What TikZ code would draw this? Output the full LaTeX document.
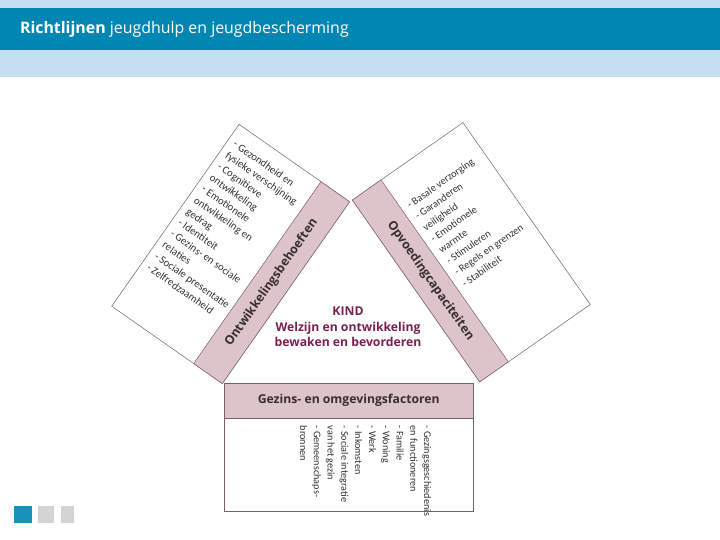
\documentclass[tikz,border=0pt]{standalone}
\usepackage{fontspec}
\setmainfont{Open Sans}
\newfontfamily\listfont{Carlito}
\usetikzlibrary{positioning}

\definecolor{headteal}{RGB}{0,134,178}
\definecolor{headlight}{RGB}{197,222,240}
\definecolor{bandpink}{RGB}{220,196,201}
\definecolor{edgegray}{RGB}{125,95,105}
\definecolor{kindred}{RGB}{122,32,78}
\definecolor{labeldark}{RGB}{55,45,50}
\definecolor{dotgray}{RGB}{212,212,212}

\begin{document}
\begin{tikzpicture}[x=1pt,y=-1pt,
    panel/.style={draw=edgegray,line width=0.5pt,fill=white,inner sep=0pt,minimum width=135pt,minimum height=222pt},
    band/.style={draw=edgegray,line width=0.5pt,fill=bandpink,inner sep=0pt,minimum width=35pt,minimum height=222pt},
    bandlabel/.style={font=\bfseries\fontsize{12.3}{14}\selectfont,text=labeldark},
    itemlist/.style={font=\listfont\fontsize{10.4}{13.7}\selectfont,text=black!80,align=left,inner xsep=7pt}]
    \useasboundingbox[fill=white] (0,0) rectangle (720,540);
    \fill[headlight] (0,0) rectangle (720,77);
    \fill[headteal] (0,8) rectangle (720,50);
    \node[anchor=west,text=white,font=\fontsize{15.9}{18}\selectfont] (title) at (16.5,29)
        {\textbf{Richtlijnen} jeugdhulp en jeugdbescherming};

    \node[panel,rotate=-35,anchor=north west] (needs) at (239,124) {};
    \node[band,rotate=-35,anchor=north east] (needs_band) at (needs.north east) {};
    \node[bandlabel,rotate=55] (needs_lbl) at (needs_band.center) {Ontwikkelingsbehoeften};
    \node[itemlist,rotate=-35,anchor=north west,inner ysep=14pt,font=\listfont\fontsize{10.8}{13.7}\selectfont] (needs_list) at (needs.north west)
        {- Gezondheid en\\fysieke verschijning\\- Cognitieve\\ontwikkeling\\- Emotionele\\ontwikkeling en\\gedrag\\- Identiteit\\- Gezins- en sociale\\relaties\\- Sociale presentatie\\- Zelfredzaamheid};

    \node[panel,rotate=35,anchor=north west] (care) at (352,200) {};
    \node[band,rotate=35,anchor=north west] (care_band) at (care.north west) {};
    \node[bandlabel,rotate=-55] (care_lbl) at (care_band.center) {Opvoedingcapaciteiten};
    \node[itemlist,rotate=35,anchor=north west,inner ysep=33pt] (care_list) at (care_band.north east)
        {- Basale verzorging\\- Garanderen\\veiligheid\\- Emotionele\\warmte\\- Stimuleren\\- Regels en grenzen\\- Stabiliteit};

    \node[align=center,text=kindred,font=\bfseries\fontsize{12.2}{15.5}\selectfont] (kind) at (348,327)
        {KIND\\Welzijn en ontwikkeling\\bewaken en bevorderen};

    \node[panel,anchor=north west,minimum width=249pt,minimum height=128pt] (env) at (224,383) {};
    \node[band,anchor=north west,minimum width=249pt,minimum height=35pt,font=\bfseries\fontsize{12.2}{14}\selectfont,text=labeldark]
        (env_band) at (env.north west) {Gezins- en omgevingsfactoren};
    \node[itemlist,rotate=-90,anchor=north west,inner ysep=42pt,font=\listfont\fontsize{10.2}{13.8}\selectfont] (env_list) at (env_band.south east)
        {- Gezingsgeschiedenis\\en functioneren\\- Familie\\- Woning\\- Werk\\- Inkomsten\\- Sociale integratie\\van het gezin\\- Gemeenschaps-\\bronnen};

    \fill[headteal!90] (14,506) rectangle (32,523);
    \fill[dotgray] (38,506) rectangle (54,523);
    \fill[dotgray] (61,506) rectangle (74,523);
\end{tikzpicture}
\end{document}
